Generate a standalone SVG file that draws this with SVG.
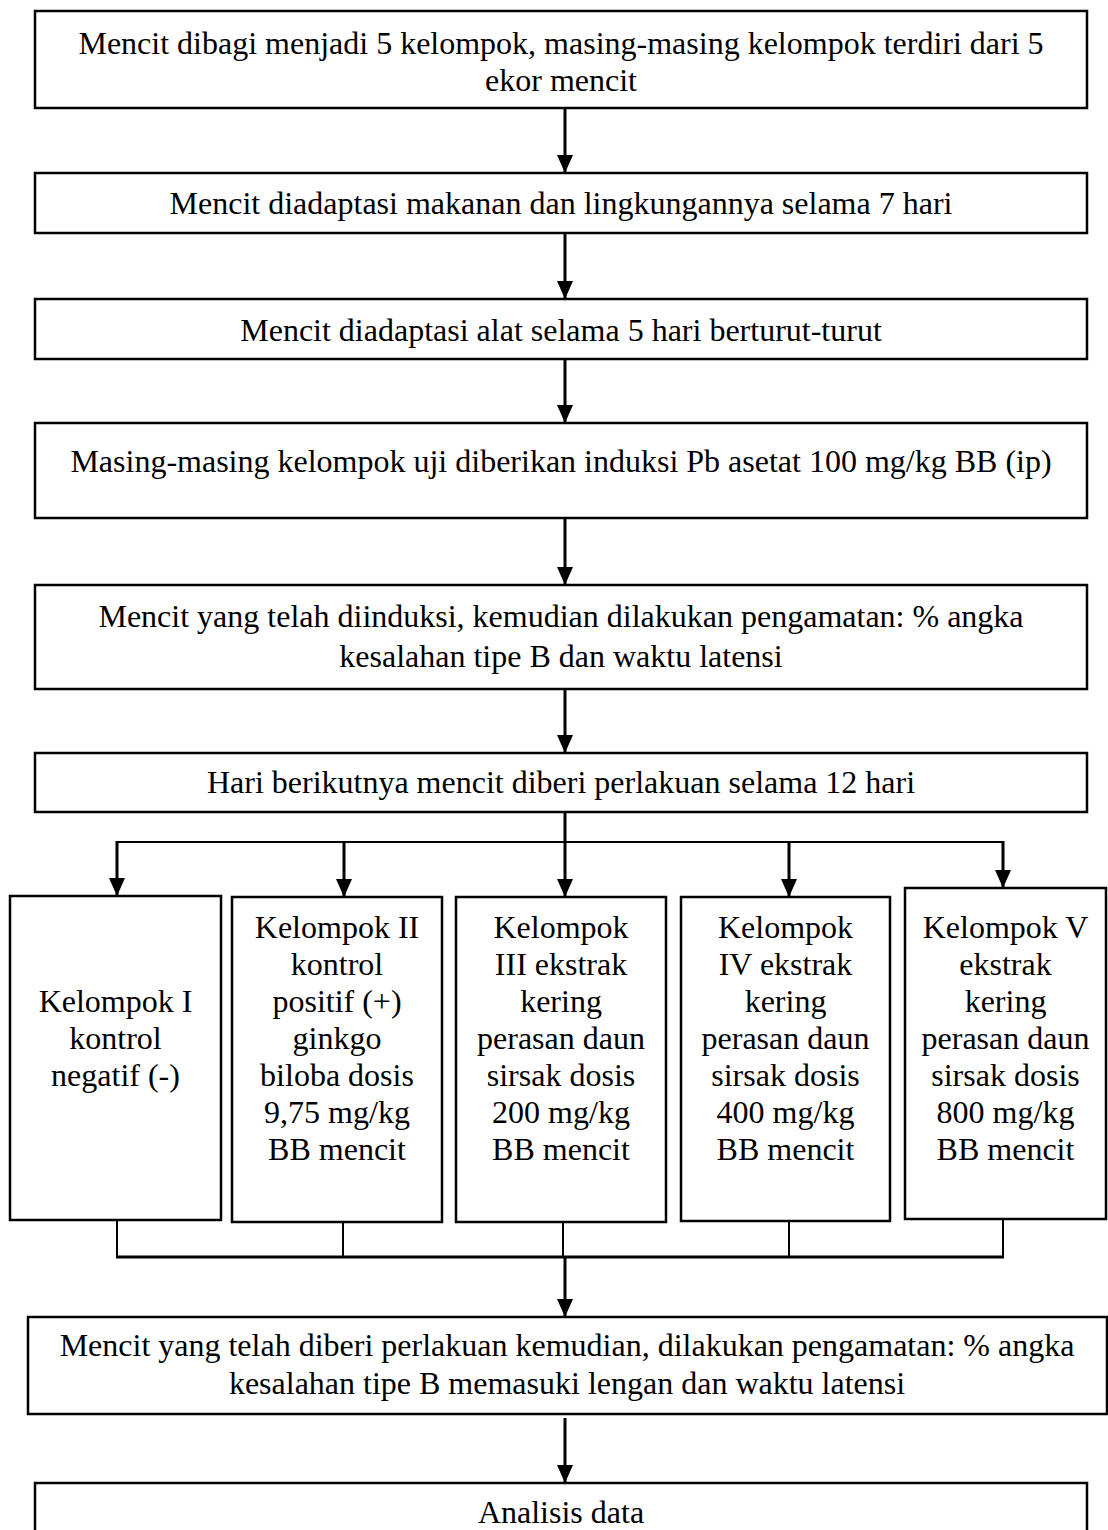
<svg xmlns="http://www.w3.org/2000/svg" width="1108" height="1530" viewBox="0 0 1108 1530">
<style>
.box{fill:#fff;stroke:#000;stroke-width:2.5}
.t{font-family:"Liberation Serif","Times New Roman",serif;font-size:32px;fill:#000;text-anchor:middle}
.arr{stroke:#000;stroke-width:3;fill:none}
.thin{stroke:#000;stroke-width:2;fill:none}
</style>
<defs>
<marker id="ah" markerUnits="userSpaceOnUse" markerWidth="18" markerHeight="16" refX="18" refY="8" orient="auto" viewBox="0 0 18 16">
<path d="M0,0 L18,8 L0,16 Z" fill="#000"/>
</marker>
</defs>
<rect width="1108" height="1530" fill="#fff"/>
<g id="connectors">
<line class="arr" x1="565" y1="108" x2="565" y2="173" marker-end="url(#ah)"/>
<line class="arr" x1="565" y1="233" x2="565" y2="299" marker-end="url(#ah)"/>
<line class="arr" x1="565" y1="359" x2="565" y2="423" marker-end="url(#ah)"/>
<line class="arr" x1="565" y1="518" x2="565" y2="585" marker-end="url(#ah)"/>
<line class="arr" x1="565" y1="689" x2="565" y2="753" marker-end="url(#ah)"/>
<line class="arr" x1="565" y1="812" x2="565" y2="842"/>
<line class="thin" x1="117" y1="842" x2="1003" y2="842"/>
<line class="arr" x1="117" y1="841" x2="117" y2="896" marker-end="url(#ah)"/>
<line class="arr" x1="344" y1="841" x2="344" y2="897" marker-end="url(#ah)"/>
<line class="arr" x1="565" y1="841" x2="565" y2="897" marker-end="url(#ah)"/>
<line class="arr" x1="789" y1="841" x2="789" y2="897" marker-end="url(#ah)"/>
<line class="arr" x1="1003" y1="841" x2="1003" y2="888" marker-end="url(#ah)"/>
<line class="thin" x1="117" y1="1220" x2="117" y2="1257"/>
<line class="thin" x1="343" y1="1222" x2="343" y2="1257"/>
<line class="thin" x1="563" y1="1222" x2="563" y2="1257"/>
<line class="thin" x1="789" y1="1221" x2="789" y2="1257"/>
<line class="thin" x1="1003" y1="1219" x2="1003" y2="1257"/>
<line class="arr" x1="116" y1="1257" x2="1004" y2="1257"/>
<line class="arr" x1="565" y1="1257" x2="565" y2="1317" marker-end="url(#ah)"/>
<line class="arr" x1="565" y1="1418" x2="565" y2="1483" marker-end="url(#ah)"/>
</g>
<g id="n1"><rect class="box" x="35" y="11" width="1052" height="97"/>
<text class="t" x="561" y="54">Mencit dibagi menjadi 5 kelompok, masing-masing kelompok terdiri dari 5</text>
<text class="t" x="561" y="91">ekor mencit</text></g>
<g id="n2"><rect class="box" x="35" y="173" width="1052" height="60"/>
<text class="t" x="561" y="214">Mencit diadaptasi makanan dan lingkungannya selama 7 hari</text></g>
<g id="n3"><rect class="box" x="35" y="299" width="1052" height="60"/>
<text class="t" x="561" y="341">Mencit diadaptasi alat selama 5 hari berturut-turut</text></g>
<g id="n4"><rect class="box" x="35" y="423" width="1052" height="95"/>
<text class="t" x="561" y="472">Masing-masing kelompok uji diberikan induksi Pb asetat 100 mg/kg BB (ip)</text></g>
<g id="n5"><rect class="box" x="35" y="585" width="1052" height="104"/>
<text class="t" x="561" y="627">Mencit yang telah diinduksi, kemudian dilakukan pengamatan: % angka</text>
<text class="t" x="561" y="667">kesalahan tipe B dan waktu latensi</text></g>
<g id="n6"><rect class="box" x="35" y="753" width="1052" height="59"/>
<text class="t" x="561" y="793">Hari berikutnya mencit diberi perlakuan selama 12 hari</text></g>
<g id="k1"><rect class="box" x="10" y="896" width="211" height="324"/>
<text class="t" x="115.5" y="1012">Kelompok I</text>
<text class="t" x="115.5" y="1049">kontrol</text>
<text class="t" x="115.5" y="1086">negatif (-)</text></g>
<g id="k2"><rect class="box" x="232" y="897" width="210" height="325"/>
<text class="t" x="337" y="938">Kelompok II</text>
<text class="t" x="337" y="975">kontrol</text>
<text class="t" x="337" y="1012">positif (+)</text>
<text class="t" x="337" y="1049">ginkgo</text>
<text class="t" x="337" y="1086">biloba dosis</text>
<text class="t" x="337" y="1123">9,75 mg/kg</text>
<text class="t" x="337" y="1160">BB mencit</text></g>
<g id="k3"><rect class="box" x="456" y="897" width="210" height="325"/>
<text class="t" x="561" y="938">Kelompok</text>
<text class="t" x="561" y="975">III ekstrak</text>
<text class="t" x="561" y="1012">kering</text>
<text class="t" x="561" y="1049">perasan daun</text>
<text class="t" x="561" y="1086">sirsak dosis</text>
<text class="t" x="561" y="1123">200 mg/kg</text>
<text class="t" x="561" y="1160">BB mencit</text></g>
<g id="k4"><rect class="box" x="681" y="897" width="209" height="324"/>
<text class="t" x="785.5" y="938">Kelompok</text>
<text class="t" x="785.5" y="975">IV ekstrak</text>
<text class="t" x="785.5" y="1012">kering</text>
<text class="t" x="785.5" y="1049">perasan daun</text>
<text class="t" x="785.5" y="1086">sirsak dosis</text>
<text class="t" x="785.5" y="1123">400 mg/kg</text>
<text class="t" x="785.5" y="1160">BB mencit</text></g>
<g id="k5"><rect class="box" x="905" y="888" width="201" height="331"/>
<text class="t" x="1005.5" y="938">Kelompok V</text>
<text class="t" x="1005.5" y="975">ekstrak</text>
<text class="t" x="1005.5" y="1012">kering</text>
<text class="t" x="1005.5" y="1049">perasan daun</text>
<text class="t" x="1005.5" y="1086">sirsak dosis</text>
<text class="t" x="1005.5" y="1123">800 mg/kg</text>
<text class="t" x="1005.5" y="1160">BB mencit</text></g>
<g id="n7"><rect class="box" x="28" y="1317" width="1079" height="97"/>
<text class="t" x="567" y="1356">Mencit yang telah diberi perlakuan kemudian, dilakukan pengamatan: % angka</text>
<text class="t" x="567" y="1394">kesalahan tipe B memasuki lengan dan waktu latensi</text></g>
<g id="n8"><rect class="box" x="35" y="1483" width="1052" height="62"/>
<text class="t" x="561" y="1523">Analisis data</text></g>
</svg>
